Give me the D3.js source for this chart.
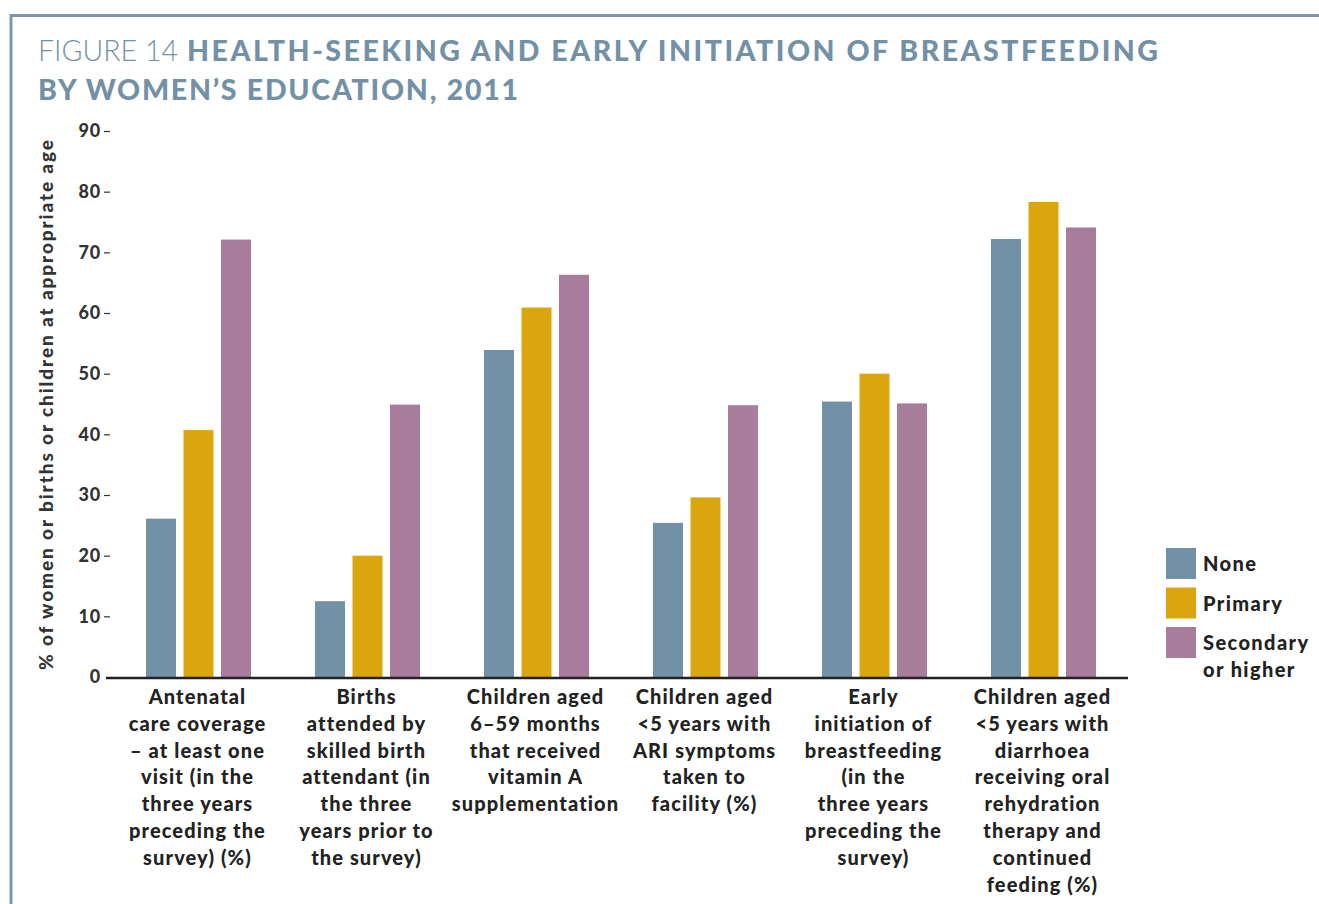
<!DOCTYPE html>
<html>
<head>
<meta charset="utf-8">
<style>
  body { margin: 0; background: #fff; }
  svg { display: block; font-family: Lato, "Open Sans", sans-serif; }
</style>
</head>
<body>
<svg width="1319" height="904"></svg>
<script src="https://cdn.jsdelivr.net/npm/d3@7"></script>
<script>

// data
var categories = [
  ["Antenatal", "care coverage", "\u2013 at least one", "visit (in the", "three years", "preceding the", "survey) (%)"],
  ["Births", "attended by", "skilled birth", "attendant (in", "the three", "years prior to", "the survey)"],
  ["Children aged", "6\u201359 months", "that received", "vitamin A", "supplementation"],
  ["Children aged", "<5 years with", "ARI symptoms", "taken to", "facility (%)"],
  ["Early", "initiation of", "breastfeeding", "(in the", "three years", "preceding the", "survey)"],
  ["Children aged", "<5 years with", "diarrhoea", "receiving oral", "rehydration", "therapy and", "continued", "feeding (%)"]
];
var series = ["None", "Primary", "Secondary"];
var seriesLabels = [["None"], ["Primary"], ["Secondary", "or higher"]];
var none      = [26.1, 12.5, 53.9, 25.4, 45.4, 72.2];
var primary   = [40.7, 20.0, 60.9, 29.6, 50.0, 78.3];
var secondary = [72.1, 44.9, 66.3, 44.8, 45.1, 74.1];
var yTicks = [0, 10, 20, 30, 40, 50, 60, 70, 80, 90];
var colors = ["#7391a6", "#dba510", "#a87c9b"];

var svg = d3.select("svg"),
    width = +svg.attr("width"),
    height = +svg.attr("height");

var frameColor = "#7c97aa";

// frame lines
svg.append("path")
    .attr("d", "M11,904V15.5H1319")
    .attr("fill", "none")
    .attr("stroke", frameColor)
    .attr("stroke-width", 3);

// title
var title = svg.append("g")
    .attr("fill", "#7391a6")
    .attr("font-size", 28.5);
title.append("text").attr("x", 38).attr("y", 61)
    .attr("font-weight", 300)
    .attr("textLength", 140).attr("lengthAdjust", "spacingAndGlyphs")
    .text("FIGURE 14");
title.append("text").attr("x", 187).attr("y", 61)
    .attr("font-weight", 900)
    .attr("textLength", 971).attr("lengthAdjust", "spacing")
    .text("HEALTH-SEEKING AND EARLY INITIATION OF BREASTFEEDING");
title.append("text").attr("x", 38).attr("y", 100)
    .attr("font-weight", 900)
    .attr("textLength", 480).attr("lengthAdjust", "spacing")
    .text("BY WOMEN\u2019S EDUCATION, 2011");

var rows = categories.map(function(c, i) {
  return {i: i, values: [none[i], primary[i], secondary[i]]};
});

var x0 = d3.scaleBand()
    .domain(d3.range(categories.length))
    .range([112, 1126]);

var x1 = d3.scaleBand()
    .domain(series)
    .range([34, x0.bandwidth() - 30])
    .paddingInner(0.2);

var y = d3.scaleLinear()
    .domain([0, 90])
    .range([677, 131]);

var color = d3.scaleOrdinal().domain(series).range(colors);

// bars
svg.append("g")
  .selectAll("g")
  .data(rows)
  .enter().append("g")
    .attr("transform", function(d) { return "translate(" + x0(d.i) + ",0)"; })
  .selectAll("rect")
  .data(function(d) { return d.values.map(function(v, k) { return {key: series[k], value: v}; }); })
  .enter().append("rect")
    .attr("x", function(d) { return x1(d.key); })
    .attr("y", function(d) { return y(d.value); })
    .attr("width", x1.bandwidth())
    .attr("height", function(d) { return y(0) - y(d.value); })
    .attr("fill", function(d) { return color(d.key); });

// y axis
var yAxis = svg.append("g")
    .attr("transform", "translate(112,0)")
    .call(d3.axisLeft(y).tickValues(yTicks).tickSize(7).tickPadding(4));
yAxis.select(".domain").remove();
yAxis.selectAll(".tick line")
    .attr("x1", -8).attr("x2", -2)
    .attr("stroke", "#333").attr("stroke-width", 1.2);
yAxis.selectAll(".tick text")
    .attr("x", -11)
    .attr("font-family", "Lato, sans-serif")
    .attr("font-size", 18)
    .attr("font-weight", 900)
    .attr("letter-spacing", 0.8)
    .attr("fill", "#333");
yAxis.selectAll(".tick").filter(function(d) { return d === 0; }).select("line").remove();

// x axis baseline
svg.append("line")
    .attr("x1", 106).attr("x2", 1128)
    .attr("y1", y(0) + 1).attr("y2", y(0) + 1)
    .attr("stroke", "#222").attr("stroke-width", 2.5);

// y axis title
svg.append("text")
    .attr("transform", "translate(53," + ((140 + 670) / 2) + ") rotate(-90)")
    .attr("text-anchor", "middle")
    .attr("font-size", 19)
    .attr("font-weight", 900)
    .attr("fill", "#333")
    .attr("textLength", 530).attr("lengthAdjust", "spacing")
    .text("% of women or births or children at appropriate age");

// category labels
svg.append("g")
  .selectAll("text")
  .data(categories)
  .enter().append("text")
    .attr("text-anchor", "middle")
    .attr("font-size", 20)
    .attr("font-weight", 900)
    .attr("letter-spacing", 1.1)
    .attr("fill", "#222")
    .each(function(lines, i) {
      var t = d3.select(this);
      lines.forEach(function(l, j) {
        t.append("tspan")
          .attr("x", x0(i) + x0.bandwidth() / 2 + 1)
          .attr("y", 704 + j * 26.8)
          .text(l);
      });
    });

// legend
var legend = svg.append("g")
  .selectAll("g")
  .data(series)
  .enter().append("g")
    .attr("transform", function(d, i) { return "translate(1166," + (548 + i * 39.5) + ")"; });
legend.append("rect")
    .attr("width", 30).attr("height", 31)
    .attr("fill", function(d) { return color(d); });
legend.append("text")
    .attr("font-size", 20)
    .attr("font-weight", 900)
    .attr("letter-spacing", 1.4)
    .attr("fill", "#222")
    .each(function(d, i) {
      var t = d3.select(this);
      seriesLabels[i].forEach(function(l, j) {
        t.append("tspan").attr("x", 37).attr("y", 23 + j * 27).text(l);
      });
    });

</script>
</body>
</html>
